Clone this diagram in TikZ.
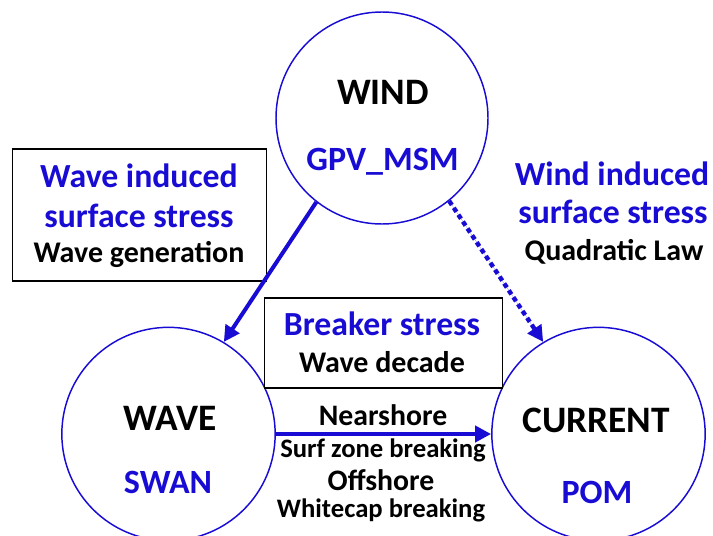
\documentclass[tikz,border=0pt]{standalone}
\usepackage{fontspec}
\setmainfont{Carlito}
\usetikzlibrary{arrows.meta}

\definecolor{modelblue}{RGB}{24,12,212}

\begin{document}
\begin{tikzpicture}[x=0.75pt, y=-0.75pt, >={Triangle[length=12pt, width=12pt]},
  every node/.style={font=\bfseries, inner sep=0pt},
  site/.style={draw=modelblue, line width=1.1pt, circle, minimum size=160pt},
  caption/.style={draw=black, line width=0.8pt, rectangle},
  big/.style={anchor=base, font=\fontsize{28}{28}\selectfont\bfseries},
  model/.style={anchor=base, text=modelblue, font=\fontsize{25.5}{25.5}\selectfont\bfseries},
  stress/.style={anchor=base, text=modelblue, font=\fontsize{25.3}{25.3}\selectfont\bfseries},
  how/.style={anchor=base, font=\fontsize{22.5}{22.5}\selectfont\bfseries},
  flux/.style={line width=3pt, draw=modelblue, fill=modelblue}]
\useasboundingbox (0,0) rectangle (713,535);

% the three models
\node[site, minimum size=159pt] (wind) at (382,118) {};
\node[site] (wave) at (168.5,434) {};
\node[site] (current) at (598.5,434) {};
\node[big] (windname) at (383,104) {WIND};
\node[model] (windmodel) at (382.5,170) {GPV\_MSM};
\node[big] (wavename) at (170,430) {WAVE};
\node[model] (wavemodel) at (168,493) {SWAN};
\node[big] (currentname) at (596,432) {CURRENT};
\node[model] (currentmodel) at (597,503) {POM};

% wind -> wave
\node[caption, minimum width=191pt, minimum height=99pt] (wavebox) at (139.5,215) {};
\node[stress] (wavestress1) at (139,187) {Wave induced};
\node[stress] (wavestress2) at (139,227) {surface stress};
\node[how] (wavehow) at (139,262) {Wave generation};

% wave -> current
\node[caption, minimum width=178pt, minimum height=67.5pt] (breakbox) at (383.5,343) {};
\node[stress] (breakstress) at (382,335) {Breaker stress};
\node[how] (breakhow) at (382,372) {Wave decade};

% wind -> current
\node[stress] (windstress1) at (612,185) {Wind induced};
\node[stress] (windstress2) at (613,223) {surface stress};
\node[how] (windhow) at (614,260) {Quadratic Law};

% labels under the wave -> current arrow
\node[how, font=\fontsize{22.3}{22.3}\selectfont\bfseries] (near) at (383,425) {Nearshore};
\node[how, font=\fontsize{20}{20}\selectfont\bfseries] (surf) at (383,457) {Surf zone breaking};
\node[how, font=\fontsize{22.3}{22.3}\selectfont\bfseries] (off) at (381,490) {Offshore};
\node[how, font=\fontsize{20}{20}\selectfont\bfseries] (white) at (381,517) {Whitecap breaking};

\draw[flux, ->] (wind.-128) -- (wave.59);
\draw[flux, ->, line width=3.3pt, dash pattern=on 3.6pt off 2.6pt] (wind.-51) -- (current.121);
\draw[flux, ->] (wave.east) -- (current.west);
\end{tikzpicture}
\end{document}
